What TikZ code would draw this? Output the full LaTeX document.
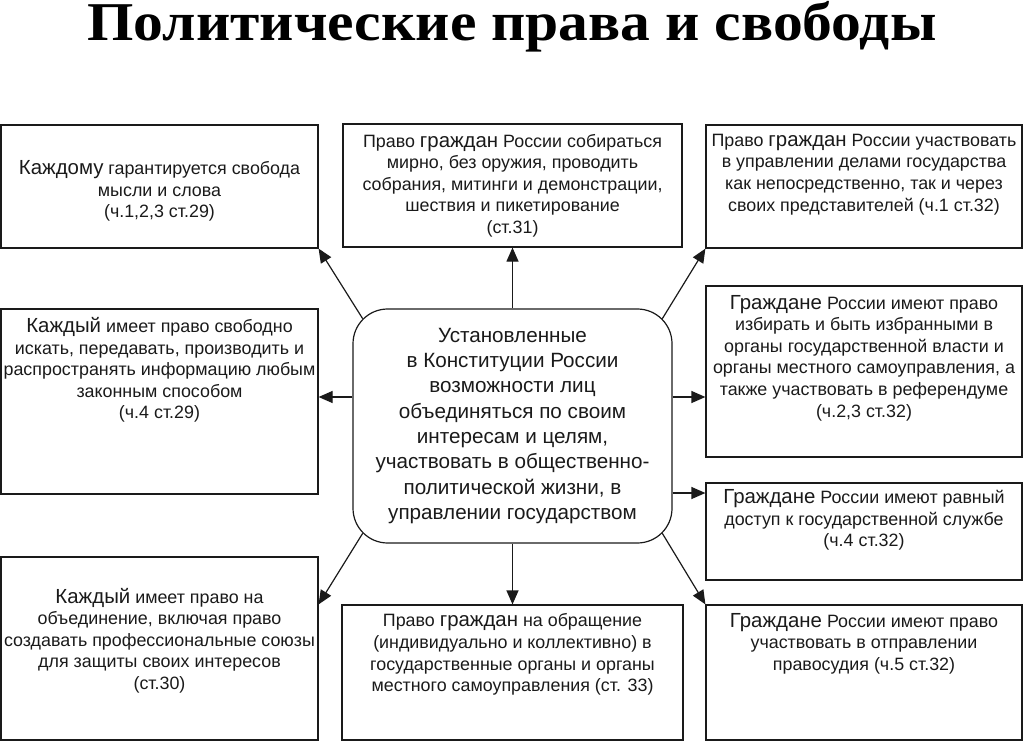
\documentclass[tikz,border=0pt]{standalone}
\usepackage{fontspec}
\setmainfont{Liberation Sans}
\newfontfamily\titlefont[FakeStretch=1.09]{Liberation Serif}
\usepackage{tikz}
\usetikzlibrary{arrows.meta,positioning,calc}
\definecolor{ink}{HTML}{1A1A1A}
\tikzset{
    info_box/.style 2 args={draw=ink, line width=0.9pt, minimum width=#1*0.75pt, minimum height=#2*0.75pt, inner sep=0pt},
    info_txt/.style={align=center, inner sep=0pt, text=ink, font=\fontsize{13.4}{16.2}\selectfont},
    link_arr/.style={-{Triangle[length=10.5pt, width=9pt]}, line width=0.9pt, draw=ink}
}
\newcommand{\kw}[1]{{\fontsize{15.3}{16}\selectfont #1}}

\begin{document}
\begin{tikzpicture}[
    x=0.75pt, y=-0.75pt,
    hub_node/.style={draw=ink, line width=0.9pt, rounded corners=26pt, minimum width=319*0.75pt, minimum height=234*0.75pt, align=center, text=ink, font=\fontsize{15.5}{19}\selectfont},
    title_node/.style={anchor=base, inner sep=0pt, text=black, font=\titlefont\bfseries\fontsize{41}{44}\selectfont}
]
  \useasboundingbox (0,0) rectangle (1024,742);

  % Title
  \node[title_node] (title) at (512,41) {Политические права и свободы};

  % Central node
  \node[hub_node] (hub) at (512.5,426) {Установленные\\в Конституции России\\возможности лиц\\объединяться по своим\\интересам и целям,\\участвовать в общественно-\\политической жизни, в\\управлении государством};

  % Boxes round the centre
  \node[info_box={317}{123}] (b1) at (159.5,186.5) {};
  \node[info_box={339}{123}] (b2) at (512.5,185.5) {};
  \node[info_box={316}{123}] (b3) at (864,186.5) {};
  \node[info_box={316}{171}] (b4) at (864,371.5) {};
  \node[info_box={316}{97}]  (b5) at (864,531.5) {};
  \node[info_box={316}{135}] (b6) at (864,672.5) {};
  \node[info_box={341}{135}] (b7) at (512.5,672.5) {};
  \node[info_box={317}{183}] (b8) at (159.5,648.5) {};
  \node[info_box={317}{185}] (b9) at (159.5,401.5) {};

  % Texts of the boxes
  \node[info_txt] (t1) at ($(b1)+(0,4.5)$) {\kw{Каждому} гарантируется свобода\\мысли и слова\\(ч.1,2,3 ст.29)};
  \node[info_txt] (t2) at (b2) {Право \kw{граждан} России собираться\\мирно, без оружия, проводить\\собрания, митинги и демонстрации,\\шествия и пикетирование\\(ст.31)};
  \node[info_txt] (t3) at ($(b3)+(0,-12)$) {Право \kw{граждан} России участвовать\\в управлении делами государства\\как непосредственно, так и через\\своих представителей (ч.1 ст.32)};
  \node[info_txt] (t4) at ($(b4)+(0,-13.5)$) {\kw{Граждане} России имеют право\\избирать и быть избранными в\\органы государственной власти и\\органы местного самоуправления, а\\также участвовать в референдуме\\(ч.2,3 ст.32)};
  \node[info_txt] (t5) at ($(b5)+(0,-11.5)$) {\kw{Граждане} России имеют равный\\доступ к государственной службе\\(ч.4 ст.32)};
  \node[info_txt] (t6) at ($(b6)+(0,-29)$) {\kw{Граждане} России имеют право\\участвовать в отправлении\\правосудия (ч.5 ст.32)};
  \node[info_txt] (t7) at ($(b7)+(0,-18)$) {Право \kw{граждан} на обращение\\(индивидуально и коллективно) в\\государственные органы и органы\\местного самоуправления (ст. 33)};
  \node[info_txt] (t8) at ($(b8)+(0,-8)$) {\kw{Каждый} имеет право на\\объединение, включая право\\создавать профессиональные союзы\\для защиты своих интересов\\(ст.30)};
  \node[info_txt] (t9) at ($(b9)+(0,-31.5)$) {\kw{Каждый} имеет право свободно\\искать, передавать, производить и\\распространять информацию любым\\законным способом\\(ч.4 ст.29)};

  % Arrows from the centre
  \draw[link_arr] (hub.north) -- (b2.south);
  \draw[link_arr] (hub.south) -- (b7.north);
  \draw[link_arr] ($(hub.north west)+(10.3,10.3)$) -- (b1.south east);
  \draw[link_arr] ($(hub.north east)+(-10.3,10.3)$) -- (b3.south west);
  \draw[link_arr] ($(hub.south west)+(10.3,-10.3)$) -- ($(b8.north east)+(0,48)$);
  \draw[link_arr] ($(hub.south east)+(-10.3,-10.3)$) -- (b6.north west);
  \draw[link_arr] ($(hub.west)+(0,-29)$) coordinate (lw) -- (lw -| b9.east);
  \draw[link_arr] ($(hub.east)+(0,-29)$) coordinate (re1) -- (re1 -| b4.west);
  \draw[link_arr] ($(hub.east)+(0,67)$) coordinate (re2) -- (re2 -| b5.west);

\end{tikzpicture}
\end{document}
